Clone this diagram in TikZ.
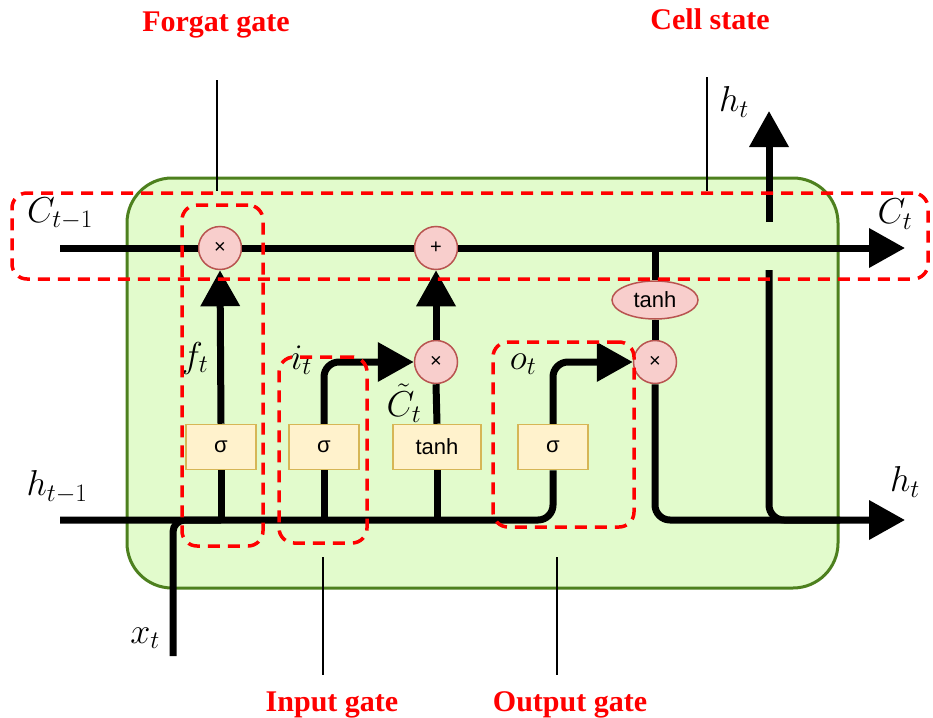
\RequirePackage{fix-cm}
\documentclass[tikz,border=0pt]{standalone}
\usepackage{fontspec}
\setmainfont{Liberation Serif}
\newfontfamily\lsans{Liberation Sans}
\usetikzlibrary{arrows.meta,shapes.geometric}
\definecolor{cellfill}{RGB}{226,251,204}
\definecolor{celldraw}{RGB}{77,128,30}
\definecolor{opfill}{RGB}{248,206,204}
\definecolor{opdraw}{RGB}{184,84,80}
\definecolor{actfill}{RGB}{255,242,204}
\definecolor{actdraw}{RGB}{214,182,86}
\begin{document}
\begin{tikzpicture}[x=1pt,y=-1pt,
 flow/.style={line width=7pt,black},
 arr/.style={-{Triangle[length=36pt,width=38pt]}},
 op/.style={circle,fill=opfill,draw=opdraw,line width=1.5pt,minimum size=43pt,inner sep=0pt,font=\lsans\fontsize{20}{20}\selectfont},
 act/.style={rectangle,fill=actfill,draw=actdraw,line width=1.5pt,minimum width=70pt,minimum height=45pt,inner sep=0pt,font=\lsans\fontsize{22}{22}\selectfont},
 gatebox/.style={draw=red,dash pattern=on 12pt off 8pt,line width=3.5pt,rounded corners=15pt,inner sep=0pt},
 pointer/.style={line width=2.5pt,black},
 lbl/.style={font=\fontsize{36}{38}\selectfont,inner sep=0pt},
 gname/.style={text=red,font=\bfseries\fontsize{30}{32}\selectfont,anchor=base}
]
\useasboundingbox (0,0) rectangle (933,717);
\fill[white] (0,0) rectangle (933,717);
% cell body
\node[fill=cellfill,draw=celldraw,line width=3pt,rounded corners=45pt,minimum width=711pt,minimum height=410pt,inner sep=0pt] (cell) at (482.5,383) {};
% operators
\node[op] (fx) at (220,248) {×};
\node[op] (plus) at (436,248) {+};
\node[op] (ix) at (436,362) {×};
\node[op] (ox) at (655,362) {×};
\node[ellipse,fill=opfill,draw=opdraw,line width=1.5pt,minimum width=86pt,minimum height=38pt,inner sep=0pt,font=\lsans\fontsize{22}{22}\selectfont] (tc) at (655,300) {tanh};
\node[act] (fs) at (221,447) {σ};
\node[act] (is) at (324,447) {σ};
\node[act,minimum width=88pt] (tb) at (437,447) {tanh};
\node[act] (os) at (553,447) {σ};
% coordinates
\coordinate (cin) at (60,248);
\coordinate (cout) at (905,248);
\coordinate (cj) at (655,248);
\coordinate (hin) at (60,520);
\coordinate (hout) at (905,520);
\coordinate (xin) at (173,656);
\coordinate (hulow) at (769,270);
\coordinate (hutop) at (769,222);
\coordinate (hutip) at (769,111);
% cell state line
\draw[flow] (cin) -- (fx.west);
\draw[flow] (fx.east) -- (plus.west);
\draw[flow,arr] (plus.east) -- (cout);
\draw[flow] (cj) -- (tc.north);
\draw[flow] (tc.south) -- (ox.north);
% hidden input line
\draw[flow,rounded corners=15pt] (hin) -| (os.south);
\draw[flow,rounded corners=12pt] (xin) |- (fs |- hin);
% forget
\draw[flow] (fs |- hin) -- (fs.south);
\draw[flow,arr] (fs.north) -- (fx.south);
% input
\draw[flow] (is |- hin) -- (is.south);
\draw[flow,arr,rounded corners=15pt] (is.north) |- (ix.west);
% candidate
\draw[flow] (tb |- hin) -- (tb.south);
\draw[flow] (tb.north) -- (ix.south);
\draw[flow,arr] (ix.north) -- (plus.south);
% output
\draw[flow,arr,rounded corners=15pt] (os.north) |- (ox.west);
\draw[flow,arr,rounded corners=15pt] (ox.south) |- (hout);
\draw[flow,rounded corners=15pt] (hulow) |- (840,520);
\draw[flow,arr] (hutop) -- (hutip);
% labels
\node[lbl] (lcin) at (60,214) {$C_{t-1}$};
\node[lbl] (lcout) at (895,214) {$C_t$};
\node[lbl] (lhtop) at (734,102) {$h_t$};
\node[lbl] (lhin) at (57,487) {$h_{t-1}$};
\node[lbl] (lhout) at (905,482) {$h_t$};
\node[lbl] (lx) at (145,638) {$x_t$};
\node[lbl] (lf) at (195,358) {$f_t$};
\node[lbl] (li) at (301,360) {$i_t$};
\node[lbl] (lo) at (523,364) {$o_t$};
\node[lbl] (lct) at (404,403) {$\tilde{C}_t$};
% gate boxes
\node[gatebox,minimum width=916pt,minimum height=86pt] (csbox) at (470,236) {};
\node[gatebox,minimum width=81pt,minimum height=341pt] (fgbox) at (222.5,375.5) {};
\node[gatebox,minimum width=88pt,minimum height=186pt] (igbox) at (323,450) {};
\node[gatebox,minimum width=141pt,minimum height=185pt] (ogbox) at (563.5,434.5) {};
% gate names and pointers
\node[gname] (fgname) at (216,32) {Forgat gate};
\node[gname] (csname) at (710,30) {Cell state};
\node[gname] (igname) at (332,711) {Input gate};
\node[gname] (ogname) at (570,711) {Output gate};
\coordinate (fgp) at (217,80);
\coordinate (csp) at (707,77);
\coordinate (igp) at (323,557);
\coordinate (ogp) at (557,557);
\draw[pointer] (fgp) -- (fgp |- csbox.north);
\draw[pointer] (csp) -- (csp |- csbox.north);
\draw[pointer] (igp) -- (323,675);
\draw[pointer] (ogp) -- (557,675);
\end{tikzpicture}
\end{document}
